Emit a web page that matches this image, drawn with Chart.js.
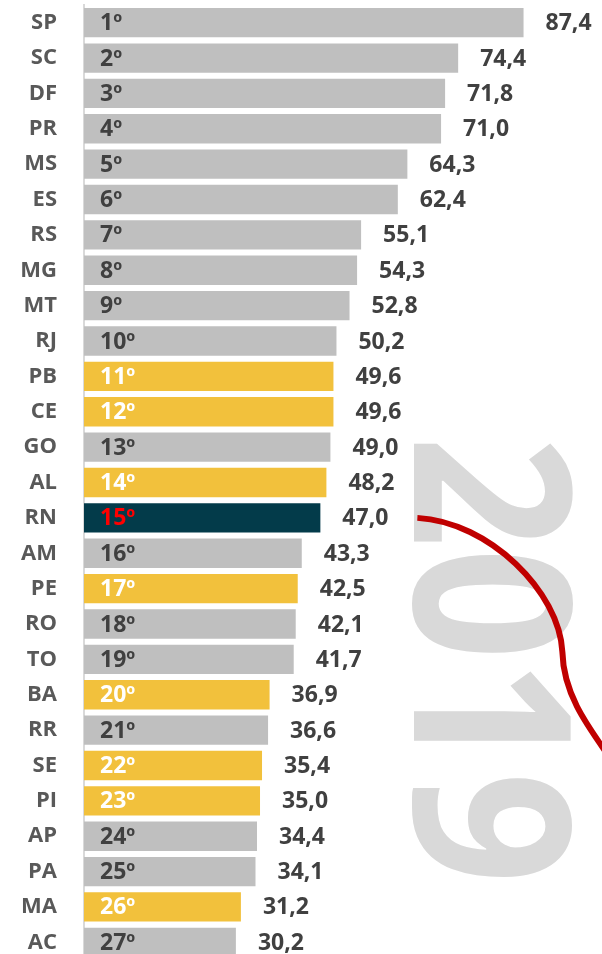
<!DOCTYPE html>
<html>
<head>
<meta charset="utf-8">
<script src="https://cdn.jsdelivr.net/npm/chart.js@4"></script>
<style>
    html, body { margin: 0; padding: 0; background: #fff; overflow: hidden; }
    #wrap { width: 602px; height: 960px; }
</style>
</head>
<body>
<div id="wrap"><canvas id="chart" width="602" height="960"></canvas></div>
<script>
const states = ["SP", "SC", "DF", "PR", "MS", "ES", "RS", "MG", "MT", "RJ", "PB", "CE", "GO", "AL",
    "RN", "AM", "PE", "RO", "TO", "BA", "RR", "SE", "PI", "AP", "PA", "MA", "AC"];
const values = [87.4, 74.4, 71.8, 71.0, 64.3, 62.4, 55.1, 54.3, 52.8, 50.2, 49.6, 49.6, 49.0, 48.2,
    47.0, 43.3, 42.5, 42.1, 41.7, 36.9, 36.6, 35.4, 35.0, 34.4, 34.1, 31.2, 30.2];
const ranks = ["1º", "2º", "3º", "4º", "5º", "6º", "7º", "8º", "9º", "10º", "11º", "12º", "13º", "14º",
    "15º", "16º", "17º", "18º", "19º", "20º", "21º", "22º", "23º", "24º", "25º", "26º", "27º"];
const nordeste = ["PB", "CE", "AL", "PE", "BA", "SE", "PI", "MA"];
const destaque = "RN";
const year = "2019";

const COLORS = { gray: "#bfbfbf", yellow: "#f2c13c", teal: "#033b4a" };
const FONT = '"Open Sans", "Liberation Sans", sans-serif';

const barColors = states.map(s =>
    s === destaque ? COLORS.teal : nordeste.includes(s) ? COLORS.yellow : COLORS.gray);
const rankColors = states.map(s =>
    s === destaque ? "#ff0000" : nordeste.includes(s) ? "#ffffff" : "#404040");

const decorPlugin = {
    id: "decor",
    beforeDatasetsDraw(chart) {
        const ctx = chart.ctx;
        const size = 220;
        ctx.save();
        ctx.fillStyle = "#d9d9d9";
        ctx.font = `bold ${size}px ${FONT}`;
        ctx.translate(493, 660);
        ctx.rotate(Math.PI / 2);
        ctx.scale(0.89, 1);
        ctx.textAlign = "center";
        ctx.textBaseline = "alphabetic";
        ctx.fillText(year, 0, size * 0.714 / 2);
        ctx.restore();
    },
    afterDatasetsDraw(chart) {
        const ctx = chart.ctx;
        const meta = chart.getDatasetMeta(0);
        ctx.save();
        ctx.font = `bold 23px ${FONT}`;
        ctx.textBaseline = "middle";
        ctx.textAlign = "left";
        meta.data.forEach((bar, i) => {
            ctx.fillStyle = rankColors[i];
            ctx.fillText(ranks[i], bar.base + 16, bar.y + 1);
            ctx.fillStyle = "#404040";
            ctx.fillText(values[i].toFixed(1).replace(".", ","), bar.x + 22, bar.y + 1);
        });

        // red curve starting right of the highlighted state's label
        const b = meta.data[states.indexOf(destaque)];
        const sx = b.x + 97, sy = b.y;
        ctx.strokeStyle = "#c00000";
        ctx.lineWidth = 6;
        ctx.beginPath();
        ctx.moveTo(sx, sy);
        ctx.bezierCurveTo(sx + 72, sy + 4, sx + 142, sy + 74, sx + 145, sy + 134);
        ctx.bezierCurveTo(sx + 146, sy + 174, sx + 167, sy + 204, sx + 192, sy + 239);
        ctx.stroke();
        ctx.restore();
    }
};

new Chart(document.getElementById("chart"), {
    type: "bar",
    data: {
        labels: states,
        datasets: [{
            data: values,
            backgroundColor: barColors,
            borderWidth: 0,
            barPercentage: 0.83,
            categoryPercentage: 1
        }]
    },
    options: {
        indexAxis: "y",
        responsive: false,
        devicePixelRatio: 1,
        animation: false,
        layout: { padding: { top: 5, right: 0, bottom: 0, left: 0 } },
        plugins: { legend: { display: false }, tooltip: { enabled: false } },
        scales: {
            x: { display: false, min: 0, max: 103 },
            y: {
                afterFit(scale) {
                    scale.width = 84;
                    scale.paddingTop = 0;
                    scale.paddingBottom = 0;
                },
                grid: { display: false, drawTicks: false },
                border: { display: true, color: "#d9d9d9", width: 2 },
                ticks: {
                    color: "#595959",
                    padding: 27,
                    font: { family: FONT, weight: "bold", size: 22 }
                }
            }
        }
    },
    plugins: [decorPlugin]
});
</script>
</body>
</html>
